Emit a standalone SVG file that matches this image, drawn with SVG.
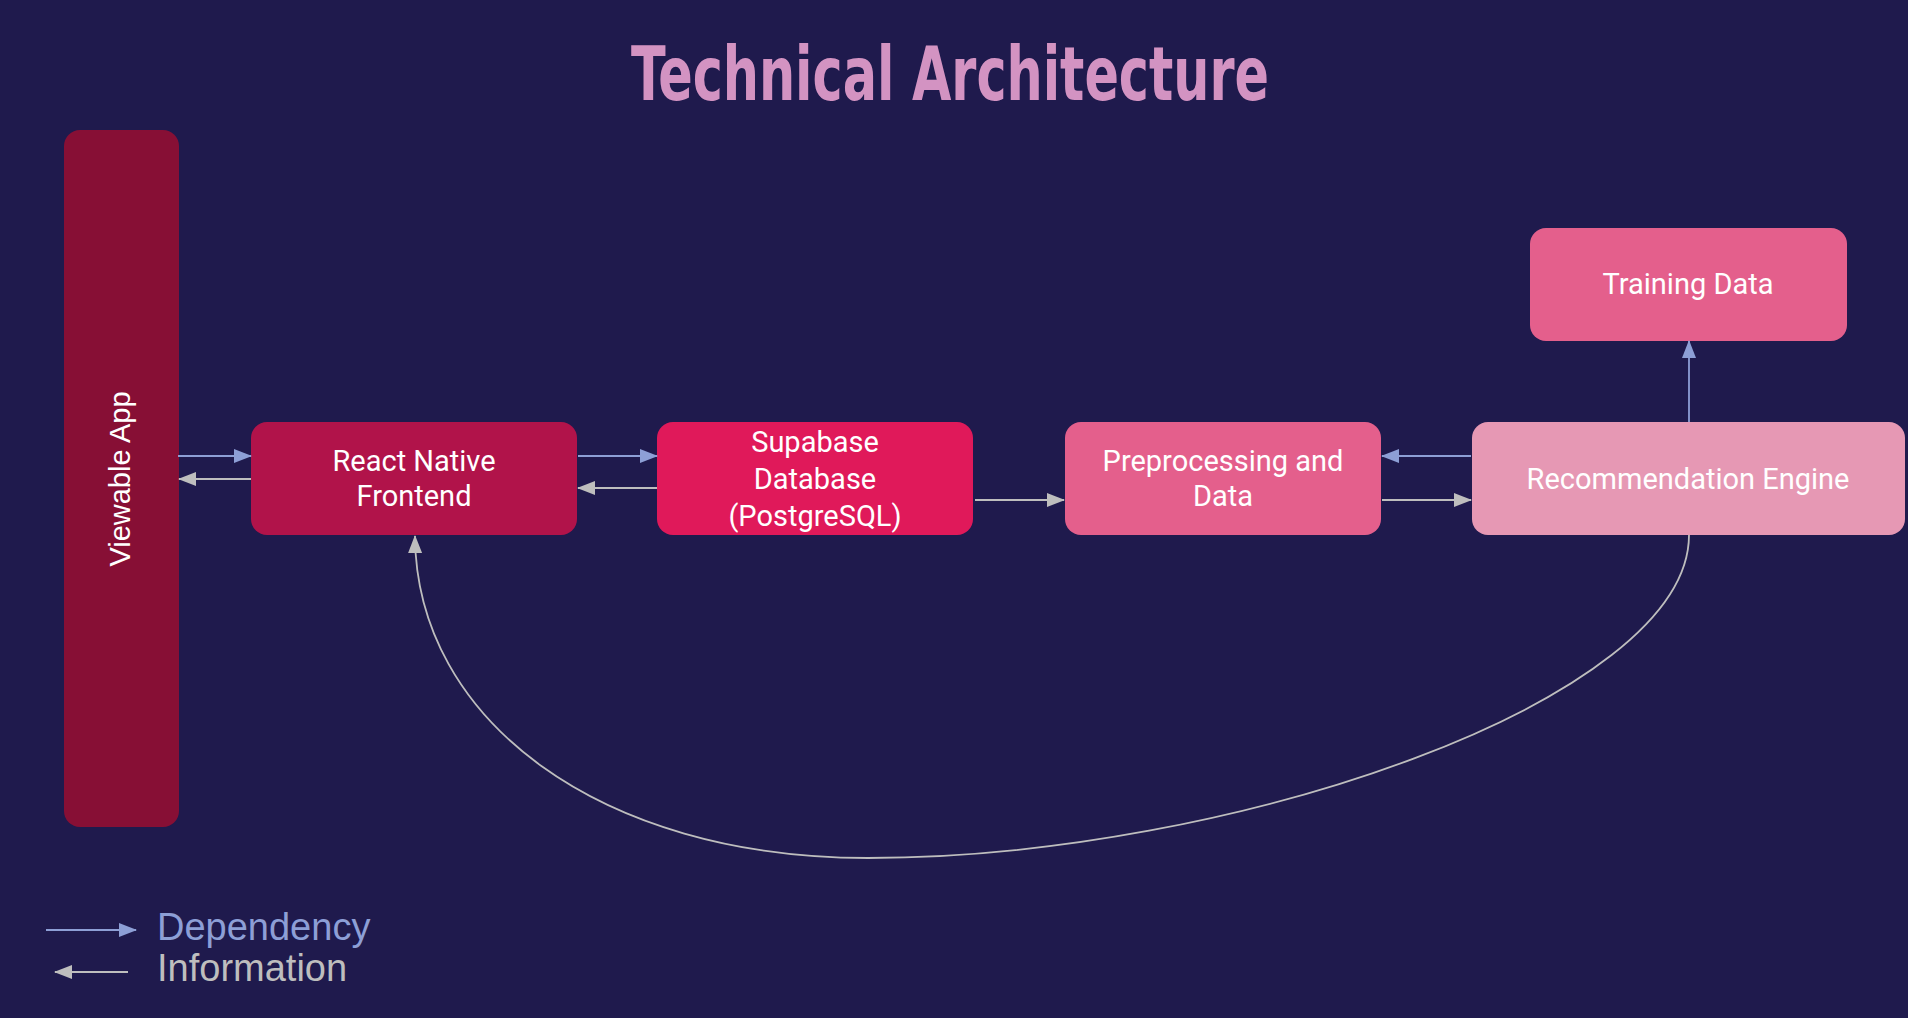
<svg xmlns="http://www.w3.org/2000/svg" width="1908" height="1018" viewBox="0 0 1908 1018">
<style>
.node-text{font-family:Roboto,"Liberation Sans",sans-serif;font-size:29px;fill:#ffffff;text-anchor:middle}
.dep{stroke:#8d9fd6;stroke-width:1.8;fill:none}
.info{stroke:#bebebe;stroke-width:1.8;fill:none}
.legend{font-family:"Liberation Sans",Arial,sans-serif;font-size:38px}
</style>
<defs>
<marker id="ah-dep" viewBox="0 0 18 14" refX="17" refY="7" markerWidth="18" markerHeight="14" markerUnits="userSpaceOnUse" orient="auto"><path d="M0,0 L18,7 L0,14 z" fill="#8d9fd6"/></marker>
<marker id="ah-info" viewBox="0 0 18 14" refX="17" refY="7" markerWidth="18" markerHeight="14" markerUnits="userSpaceOnUse" orient="auto"><path d="M0,0 L18,7 L0,14 z" fill="#bebebe"/></marker>
</defs>
<rect x="0" y="0" width="1908" height="1018" fill="#1f1a4d"/>
<text x="950" y="100" font-family="'DejaVu Sans Condensed','DejaVu Sans',sans-serif" font-weight="bold" font-stretch="condensed" font-size="74" fill="#d393c2" text-anchor="middle" textLength="638" lengthAdjust="spacingAndGlyphs">Technical Architecture</text>

<g id="viewable-app">
<rect x="64" y="130" width="115" height="697" rx="16" fill="#870f35"/>
<text class="node-text" transform="translate(130,479) rotate(-90)" x="0" y="0" style="font-family:'Liberation Sans',Arial,sans-serif;font-size:29px">Viewable App</text>
</g>
<g id="react-native">
<rect x="251" y="422" width="326" height="113" rx="16" fill="#b1134a"/>
<text class="node-text" x="414" y="471">React Native</text>
<text class="node-text" x="414" y="506">Frontend</text>
</g>
<g id="supabase">
<rect x="657" y="422" width="316" height="113" rx="16" fill="#e0195a"/>
<text class="node-text" x="815" y="452">Supabase</text>
<text class="node-text" x="815" y="489">Database</text>
<text class="node-text" x="815" y="526">(PostgreSQL)</text>
</g>
<g id="preprocessing">
<rect x="1065" y="422" width="316" height="113" rx="16" fill="#e45f8c"/>
<text class="node-text" x="1223" y="471">Preprocessing and</text>
<text class="node-text" x="1223" y="506">Data</text>
</g>
<g id="recommendation">
<rect x="1472" y="422" width="433" height="113" rx="16" fill="#e698b4"/>
<text class="node-text" x="1688" y="489">Recommendation Engine</text>
</g>
<g id="training-data">
<rect x="1530" y="228" width="317" height="113" rx="16" fill="#e45f8c"/>
<text class="node-text" x="1688" y="294">Training Data</text>
</g>

<g id="connectors">
<line class="dep" x1="178" y1="456" x2="251" y2="456" marker-end="url(#ah-dep)"/>
<line class="info" x1="251" y1="479" x2="179" y2="479" marker-end="url(#ah-info)"/>
<line class="dep" x1="578" y1="456" x2="657" y2="456" marker-end="url(#ah-dep)"/>
<line class="info" x1="657" y1="488" x2="578" y2="488" marker-end="url(#ah-info)"/>
<line class="info" x1="975" y1="500" x2="1064" y2="500" marker-end="url(#ah-info)"/>
<line class="dep" x1="1471" y1="456" x2="1382" y2="456" marker-end="url(#ah-dep)"/>
<line class="info" x1="1382" y1="500" x2="1471" y2="500" marker-end="url(#ah-info)"/>
<line class="dep" x1="1689" y1="422" x2="1689" y2="341" marker-end="url(#ah-dep)"/>
<path class="info" d="M1689,535 C1689,700 1230,858 868,858 C600,858 416,720 415,536" marker-end="url(#ah-info)"/>
</g>

<g id="legend">
<line class="dep" x1="46" y1="930" x2="136" y2="930" marker-end="url(#ah-dep)"/>
<line class="info" x1="128" y1="972" x2="55" y2="972" marker-end="url(#ah-info)"/>
<text class="legend" x="157" y="940" fill="#8d9fd6">Dependency</text>
<text class="legend" x="157" y="981" fill="#bebebe">Information</text>
</g>
</svg>
